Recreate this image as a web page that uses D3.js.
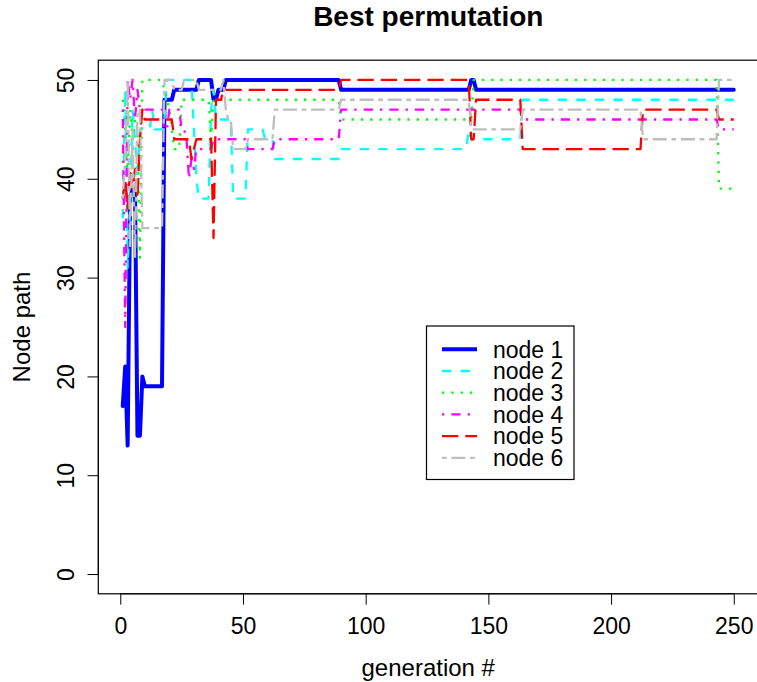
<!DOCTYPE html>
<html><head><meta charset="utf-8">
<script src="https://cdn.jsdelivr.net/npm/d3@7/dist/d3.min.js"></script>
<style>
body{margin:0;background:#fff}
text{font-family:"Liberation Sans",Arial,Helvetica,sans-serif;fill:#000}
</style>
</head><body>
<svg id="chart" width="757" height="682"></svg>
<script>
// ---- data: [generation, node path] vertices of each polyline ----
const node1 = [[1,17],[2,21],[3,13],[4,38],[5,39],[6,39],[7,14],[8,14],[9,20],[10,19],[17,19],[18,48],[21,48],[22,49],[31,49],[32,50],[37,50],[38,48],[39,48],[40,49],[42,49],[43,50],[89,50],[90,49],[142,49],[143,50],[144,50],[145,49],[250,49]];
const node2 = [[1,36],[2,49],[3,31],[4,37],[5,47],[6,44],[7,40],[8,45],[12,45],[13,47],[14,45],[17,45],[18,46],[19,50],[29,50],[30,45],[31,40],[32,38],[36,38],[37,47],[38,49],[39,46],[45,46],[46,38],[51,38],[52,45],[58,45],[59,44],[62,44],[63,42],[89,42],[90,43],[141,43],[142,45],[143,44],[163,44],[164,48],[250,48]];
const node3 = [[1,48],[2,45],[3,40],[4,47],[5,44],[6,46],[7,45],[8,32],[9,50],[17,50],[18,49],[19,48],[20,47],[21,45],[22,43],[24,43],[25,48],[36,48],[37,44],[38,48],[89,48],[90,46],[143,46],[144,50],[243,50],[244,39],[250,39]];
const node4 = [[1,47],[2,25],[3,50],[4,48],[5,50],[6,46],[7,49],[8,47],[17,47],[18,45],[19,45],[20,47],[24,47],[25,45],[26,45],[27,44],[28,40],[29,42],[30,41],[31,43],[37,43],[38,44],[51,44],[52,43],[62,43],[63,44],[89,44],[90,47],[163,47],[164,46],[243,46],[244,45],[250,45]];
const node5 = [[1,38],[2,40],[3,37],[4,41],[5,39],[6,41],[7,38],[8,44],[9,47],[10,46],[21,46],[22,44],[28,44],[29,42],[30,43],[31,44],[37,44],[38,34],[39,48],[41,48],[42,49],[89,49],[90,50],[142,50],[143,44],[144,44],[145,48],[163,48],[164,43],[212,43],[213,47],[243,47],[244,46],[250,46]];
const node6 = [[1,38],[2,42],[3,50],[4,33],[5,45],[6,32],[7,47],[8,47],[9,35],[17,35],[18,50],[21,50],[22,49],[25,49],[26,50],[31,50],[32,49],[41,49],[42,50],[43,47],[44,46],[45,46],[46,43],[51,43],[52,44],[62,44],[63,47],[89,47],[90,48],[142,48],[143,45],[163,45],[164,47],[212,47],[213,44],[243,44],[244,50],[250,50]];

const seriesData = [node1, node2, node3, node4, node5, node6];
const seriesNames = ["node 1","node 2","node 3","node 4","node 5","node 6"];
const xTicks = [0, 50, 100, 150, 200, 250];
const yTicks = [0, 10, 20, 30, 40, 50];
const titleText = "Best permutation";
const xLabel = "generation #";
const yLabel = "Node path";

// ---- styles ----
const colors = ["#0000FF","#00FFFF","#00FF00","#FF00FF","#FF0000","#BEBEBE"];
const widths = [4, 2.3, 2.3, 2.3, 2.3, 2.3];
const dashes = [null, "9.3,9.3", "2.3,7", "2.3,7,9.3,7", "16.3,7", "4.7,4.7,14,4.7"];

const svg = d3.select("#chart");
const L = 98.3, R = 758.2, T = 60.2, B = 593.8;
const x = d3.scaleLinear().domain([-8.96, 259.96]).range([L, R]);
const y = d3.scaleLinear().domain([-2, 52]).range([B, T]);

const fsTick = 23, fsLab = 24, fsLeg = 23;

// lines
const line = d3.line().x(d => x(d[0])).y(d => y(d[1]));
seriesData.forEach((s, i) => {
  svg.append("path").datum(s)
    .attr("d", line)
    .attr("fill", "none")
    .attr("stroke", colors[i])
    .attr("stroke-width", widths[i])
    .attr("stroke-linejoin", "round")
    .attr("stroke-linecap", i === 0 ? "round" : "butt")
    .attr("stroke-dasharray", dashes[i]);
});

// box
svg.append("rect").attr("x", L).attr("y", T).attr("width", R - L).attr("height", B - T)
  .attr("fill", "none").attr("stroke", "#000").attr("stroke-width", 1.2);

// x axis
const xa = svg.append("g").attr("transform", `translate(0,${B})`)
  .call(d3.axisBottom(x).tickValues(xTicks).tickSize(10.8).tickSizeOuter(0));
xa.select(".domain").attr("d", `M${x(0)},0H${x(250)}`).attr("stroke", "#000");
xa.selectAll(".tick line").attr("stroke", "#000");
xa.selectAll(".tick text").attr("font-size", fsTick).attr("font-family", null)
  .attr("dy", null).attr("y", 40);

// y axis
const ya = svg.append("g").attr("transform", `translate(${L},0)`)
  .call(d3.axisLeft(y).tickValues(yTicks).tickSize(10.8).tickSizeOuter(0));
ya.select(".domain").attr("d", `M0,${y(0)}V${y(50)}`).attr("stroke", "#000");
ya.selectAll(".tick line").attr("stroke", "#000");
ya.selectAll(".tick text").attr("font-size", fsTick).attr("font-family", null)
  .attr("x", null).attr("dy", null).attr("text-anchor", "middle")
  .attr("transform", "translate(-24,0) rotate(-90)");

// titles
svg.append("text").attr("x", (L + R) / 2).attr("y", 26).attr("text-anchor", "middle")
  .attr("font-size", 28).attr("font-weight", "bold").text(titleText);
svg.append("text").attr("x", (L + R) / 2).attr("y", 676).attr("text-anchor", "middle")
  .attr("font-size", fsLab).text(xLabel);
svg.append("text").attr("transform", `translate(30,${(T + B) / 2}) rotate(-90)`).attr("text-anchor", "middle")
  .attr("font-size", fsLab).text(yLabel);

// legend
const lg = svg.append("g");
lg.append("rect").attr("x", 426.5).attr("y", 326).attr("width", 147.5).attr("height", 153.5)
  .attr("fill", "#fff").attr("stroke", "#000").attr("stroke-width", 1.2);
seriesNames.forEach((n, i) => {
  const yy = 349.3 + i * 21.7;
  lg.append("line").attr("x1", 442).attr("x2", 477).attr("y1", yy).attr("y2", yy)
    .attr("stroke", colors[i]).attr("stroke-width", widths[i])
    .attr("stroke-dasharray", dashes[i]);
  lg.append("text").attr("x", 493).attr("y", yy).attr("dy", "0.36em")
    .attr("font-size", fsLeg).text(n);
});
</script>
</body></html>
